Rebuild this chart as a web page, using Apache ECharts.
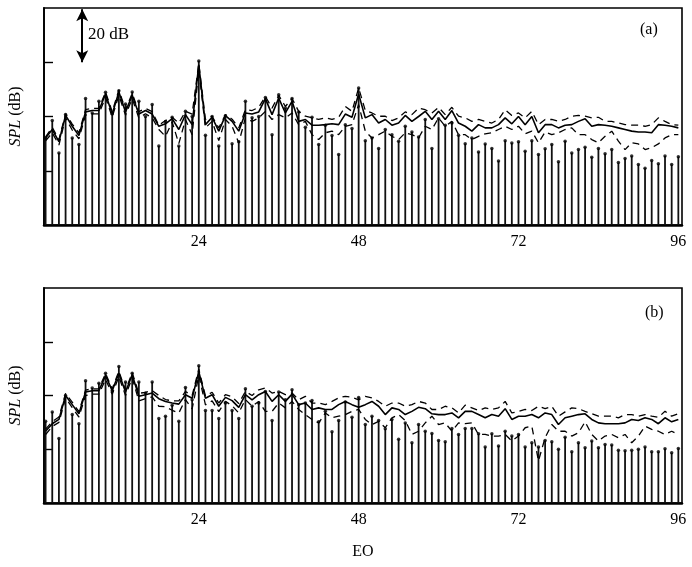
<!DOCTYPE html>
<html><head><meta charset="utf-8">
<script src="https://cdn.jsdelivr.net/npm/echarts@6/dist/echarts.min.js"></script>
<style>html,body{margin:0;padding:0;background:#fff}#c{width:692px;height:567px}</style>
</head><body><div id="c"></div>
<script>
// Engine order (EO) categories
const eo = [1,2,3,4,5,6,7,8,9,10,11,12,13,14,15,16,17,18,19,20,21,22,23,24,25,26,27,28,29,30,31,32,
  33,34,35,36,37,38,39,40,41,42,43,44,45,46,47,48,49,50,51,52,53,54,55,56,57,58,59,60,61,62,63,64,
  65,66,67,68,69,70,71,72,73,74,75,76,77,78,79,80,81,82,83,84,85,86,87,88,89,90,91,92,93,94,95,96];
const xTickLabels = [24,48,72,96];
const yTicks = [20,40,60];

// Panel (a)
const aStem = [32.1,38.5,26.5,40.7,32.1,29.7,46.6,41.3,45.6,48.9,40.9,49.5,44.6,49.0,45.6,40.0,44.4,29.1,38.2,39.7,29.1,41.9,40.0,60.5,33.1,40.0,29.1,40.3,30.0,30.7,45.6,39.5,
  40.0,47.0,33.3,48.0,43.1,46.6,41.7,36.0,39.7,29.7,36.8,33.0,26.0,37.0,35.6,50.5,31.1,32.1,28.2,35.2,33.3,30.9,36.4,34.3,32.4,38.9,28.2,39.2,36.8,37.6,33.1,30.0,
  32.1,26.9,29.9,28.2,23.6,31.1,30.2,30.7,27.2,31.1,26.0,28.1,29.7,23.3,30.9,26.5,27.8,28.7,25.0,28.2,26.3,27.8,23.0,24.5,25.4,22.3,20.9,23.8,22.6,25.4,22.3,25.2];
const aMean = [32.1,35.2,30.7,40.4,36.4,33.0,41.7,42.2,42.2,48.3,40.9,49.0,41.7,47.8,40.9,42.2,40.9,36.4,37.3,39.2,35.2,40.7,37.0,59.0,37.0,39.7,34.6,40.3,38.2,34.6,41.3,40.9,
  41.7,46.6,40.7,46.8,41.3,45.6,38.2,38.9,36.8,36.8,37.0,37.3,37.0,40.9,39.7,48.3,39.5,40.7,37.6,38.9,36.8,37.6,40.4,38.2,40.0,41.9,38.9,41.9,38.9,42.2,37.6,36.4,
  34.6,37.0,35.8,35.8,37.0,39.5,37.3,40.0,37.0,40.0,34.0,37.0,37.0,35.8,36.8,37.0,38.2,39.2,36.4,37.0,36.8,36.4,35.8,35.2,34.6,34.3,34.3,34.0,37.0,36.8,36.4,35.8];
const aUpper = [32.5,36.0,31.5,41.0,37.2,34.0,42.5,43.0,43.0,49.0,41.8,49.8,42.5,48.5,41.8,43.0,41.8,36.8,38.5,39.7,37.6,41.9,40.9,59.6,38.9,40.1,35.8,40.7,39.0,35.8,42.5,42.2,
  43.4,47.4,43.1,47.8,43.7,46.6,41.9,40.1,39.5,38.9,39.5,38.9,39.7,43.7,41.9,50.5,42.2,41.3,40.1,40.1,38.5,39.5,41.7,40.7,43.1,42.5,41.3,43.4,40.7,43.4,40.1,39.5,
  38.2,38.9,38.2,37.6,38.9,42.5,40.4,41.3,39.5,41.9,37.0,38.9,38.9,38.2,38.9,40.1,40.4,40.1,39.5,39.7,38.2,38.2,37.6,37.0,36.8,36.8,36.4,37.0,39.5,38.2,37.0,36.8];
const aLower = [31.0,34.0,29.5,39.5,35.0,31.8,40.5,41.0,41.0,47.0,39.8,47.8,40.5,46.6,39.5,41.0,39.5,35.2,32.7,38.0,30.0,38.9,33.3,57.2,35.8,38.2,31.1,38.9,36.4,30.3,39.5,38.2,
  39.5,41.9,38.9,40.7,39.5,41.3,37.0,38.2,33.3,31.5,34.0,34.6,33.3,36.4,37.0,44.4,34.6,32.1,33.3,34.6,32.7,31.5,34.0,33.3,32.1,36.4,35.2,39.5,36.4,38.2,33.3,33.3,
  31.5,32.7,33.6,34.0,35.2,36.4,35.2,36.4,33.6,34.6,30.3,34.3,33.3,34.0,35.2,35.8,33.3,33.3,31.5,30.3,32.7,34.6,30.9,27.8,30.3,29.9,27.8,28.5,29.9,32.1,33.3,33.3];

// Panel (b)
const bStem = [30.4,33.9,24.0,40.0,32.9,29.5,45.5,42.8,44.6,48.3,41.8,50.8,45.0,48.3,45.0,40.9,45.0,31.4,32.3,36.4,30.4,43.0,38.4,51.1,34.4,34.4,31.4,37.2,34.4,31.4,42.5,36.0,
  37.2,41.5,30.7,41.3,38.4,42.1,36.6,37.2,38.1,30.2,34.1,26.5,30.7,37.6,31.9,39.3,29.2,32.3,30.7,27.6,31.1,23.7,29.8,22.4,29.2,26.7,25.9,23.3,22.8,27.7,25.5,27.7,
  27.7,25.8,20.8,25.8,21.2,26.7,24.9,25.5,20.8,22.4,20.8,23.3,22.8,20.0,24.5,19.1,22.4,20.6,23.1,20.6,21.8,21.6,19.6,19.4,19.6,20.0,20.8,19.1,19.1,20.2,18.7,20.3];
const bMean = [26.7,29.5,31.1,40.0,36.6,33.2,41.3,41.8,41.8,47.4,41.8,48.3,41.3,47.7,39.7,40.3,40.9,38.8,37.8,37.2,36.8,40.3,39.0,48.9,39.0,40.3,36.0,39.3,38.1,35.6,40.3,38.4,
  40.3,41.5,37.8,40.3,37.8,40.5,36.6,37.2,34.8,35.4,34.8,34.8,36.6,37.8,36.6,35.6,36.6,37.8,36.0,32.9,35.4,34.8,32.9,34.1,35.6,35.1,33.2,32.9,32.9,33.5,31.7,34.1,
  34.1,32.9,31.7,32.9,32.3,35.1,31.1,32.3,32.3,32.9,31.7,33.5,32.9,29.2,31.7,32.3,32.9,33.2,31.1,29.8,29.5,29.5,29.5,29.8,31.1,30.7,31.7,31.1,29.5,31.7,30.2,31.1];
const bUpper = [27.5,30.3,32.0,40.8,37.5,34.0,42.0,42.5,42.5,48.2,42.5,49.0,42.0,48.5,40.8,41.2,41.8,40.0,38.5,38.0,38.0,41.5,40.0,49.8,39.8,41.2,37.2,40.3,39.5,37.0,41.5,40.0,
  42.1,42.8,40.9,41.5,40.3,40.9,38.4,39.7,37.2,37.2,36.6,37.8,39.1,39.7,39.3,38.4,39.7,39.1,37.8,36.0,37.2,37.2,36.0,36.6,37.8,37.2,34.8,34.8,36.0,35.4,33.5,36.4,
  35.4,34.4,35.4,34.8,35.4,37.8,33.5,34.1,34.8,34.4,36.0,35.1,36.0,32.3,33.9,35.4,35.1,34.1,33.2,32.3,32.3,32.3,31.7,32.9,32.9,32.3,32.9,32.3,31.9,34.1,32.3,33.2];
const bLower = [25.5,28.5,30.0,39.0,35.5,32.0,40.0,40.5,40.5,46.0,40.5,47.0,40.0,46.5,38.0,38.8,39.5,36.0,35.8,34.5,33.5,38.5,35.0,47.5,36.5,38.0,34.0,37.8,36.2,33.5,38.5,36.0,
  37.8,34.1,34.1,37.2,35.4,37.8,34.8,32.9,31.1,29.8,33.5,31.7,32.3,32.9,34.1,34.8,31.1,29.2,30.4,28.0,31.7,32.9,30.7,25.5,26.7,29.8,32.3,29.2,29.8,26.7,29.8,29.5,
  29.8,25.5,25.5,24.9,24.9,25.5,23.1,24.9,28.0,28.6,15.7,24.3,29.2,26.7,26.7,24.9,26.1,30.2,25.5,23.1,24.9,25.5,24.3,25.5,22.4,24.9,28.6,27.4,26.7,25.5,26.7,25.5];

const pair = (ys) => eo.map((x, i) => [x, ys[i]]);
const serif = 'Liberation Serif';
const X_MIN = 0.76, X_MAX = 96.55;

function xAxisFor(gi, withName) {
  return {
    type: 'value', gridIndex: gi, min: X_MIN, max: X_MAX,
    axisLine: { show: true, onZero: false, lineStyle: { color: '#000', width: 2.5 } },
    axisTick: { show: false },
    splitLine: { show: false },
    axisLabel: { customValues: xTickLabels, fontFamily: serif, fontSize: 16, color: '#000', margin: 9 },
    name: withName ? 'EO' : '', nameLocation: 'middle', nameGap: 41,
    nameTextStyle: { fontFamily: serif, fontSize: 16, color: '#000' }
  };
}
function yAxisFor(gi) {
  return {
    type: 'value', gridIndex: gi, min: 0, max: 80, interval: 20,
    axisLine: { show: true, lineStyle: { color: '#000', width: 1.8 } },
    axisTick: { show: true, inside: true, length: 9, customValues: yTicks, lineStyle: { color: '#000', width: 1.4 } },
    axisLabel: { show: false },
    splitLine: { show: false },
    name: '{i|SPL} (dB)', nameLocation: 'middle', nameRotate: 90, nameGap: 20,
    nameTextStyle: { fontFamily: serif, fontSize: 16, color: '#000',
      rich: { i: { fontFamily: serif, fontSize: 16, fontStyle: 'italic', color: '#000' } } }
  };
}
function panelSeries(gi, stem, mean, upper, lower, extra) {
  return [
    { type: 'bar', xAxisIndex: gi, yAxisIndex: gi, data: pair(stem), barWidth: 1.8,
      itemStyle: { color: '#111' }, silent: true, ...(extra || {}) },
    { type: 'scatter', xAxisIndex: gi, yAxisIndex: gi, data: pair(stem), symbol: 'circle', symbolSize: 3.5,
      itemStyle: { color: '#000' }, silent: true },
    { type: 'line', xAxisIndex: gi, yAxisIndex: gi, data: pair(upper), symbol: 'none',
      lineStyle: { color: '#000', width: 1.3, type: [7, 5] }, silent: true },
    { type: 'line', xAxisIndex: gi, yAxisIndex: gi, data: pair(lower), symbol: 'none',
      lineStyle: { color: '#000', width: 1.3, type: [7, 5] }, silent: true },
    { type: 'line', xAxisIndex: gi, yAxisIndex: gi, data: pair(mean), symbol: 'none',
      lineStyle: { color: '#000', width: 1.6 }, silent: true }
  ];
}

const chart = echarts.init(document.getElementById('c'), null, { renderer: 'canvas' });
chart.setOption({
  animation: false,
  backgroundColor: '#fff',
  grid: [
    { left: 42, top: 8, width: 640, height: 217, show: true, borderColor: '#000', borderWidth: 1.6, backgroundColor: 'transparent' },
    { left: 42, top: 288, width: 640, height: 215, show: true, borderColor: '#000', borderWidth: 1.6, backgroundColor: 'transparent' }
  ],
  xAxis: [xAxisFor(0, false), xAxisFor(1, true)],
  yAxis: [yAxisFor(0), yAxisFor(1)],
  series: [
    ...panelSeries(0, aStem, aMean, aUpper, aLower, {
      markLine: {
        silent: true, symbol: ['arrow', 'arrow'], symbolSize: [9, 12],
        lineStyle: { color: '#000', width: 2, type: 'solid' }, label: { show: false },
        data: [[{ coord: [6.5, 79.5] }, { coord: [6.5, 60] }]]
      }
    }),
    ...panelSeries(1, bStem, bMean, bUpper, bLower)
  ],
  graphic: [
    { type: 'text', left: 88, top: 26, style: { text: '20 dB', font: '17px "Liberation Serif"', fill: '#000' } },
    { type: 'text', left: 640, top: 22, style: { text: '(a)', font: '16px "Liberation Serif"', fill: '#000' } },
    { type: 'text', left: 645, top: 305, style: { text: '(b)', font: '16px "Liberation Serif"', fill: '#000' } }
  ]
});
</script>
</body></html>
